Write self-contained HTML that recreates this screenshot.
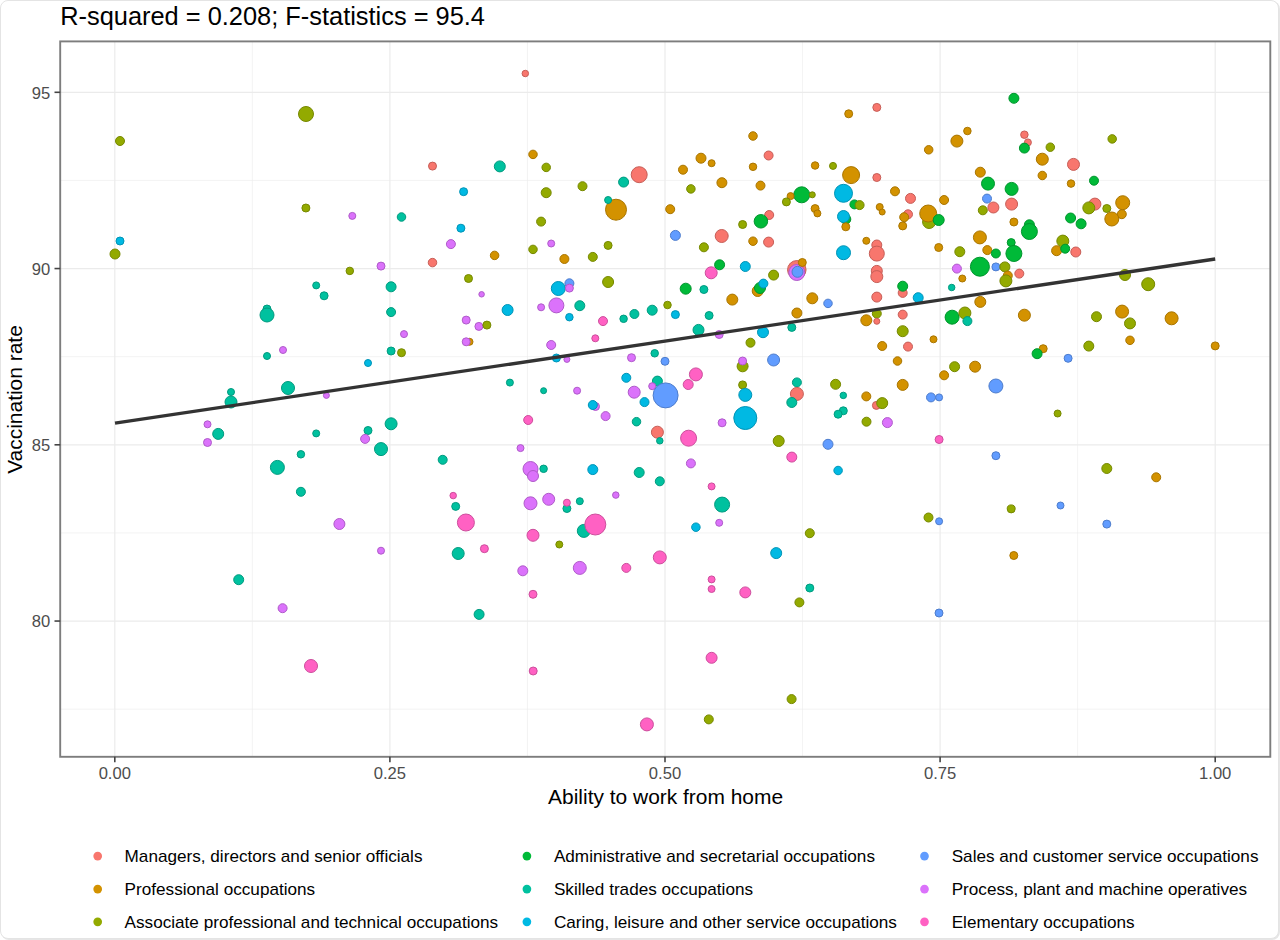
<!DOCTYPE html>
<html><head><meta charset="utf-8"><title>Vaccination rate vs ability to work from home</title>
<style>
html,body{margin:0;padding:0;background:#fff;}
body{width:1280px;height:940px;position:relative;overflow:hidden;font-family:"Liberation Sans",Arial,sans-serif;}
.card{position:absolute;left:0;top:0;width:1279px;height:939px;box-sizing:border-box;border:1px solid #e4e4e4;border-radius:8px;background:#fff;box-shadow:1px 1px 0 #e6e6e6;}
</style></head>
<body>
<div class="card"></div>
<svg width="1280" height="940" viewBox="0 0 1280 940" style="position:absolute;left:0;top:0">
<line x1="252.35" y1="41.4" x2="252.35" y2="756.8" stroke="#EBEBEB" stroke-width="0.6"/>
<line x1="527.45" y1="41.4" x2="527.45" y2="756.8" stroke="#EBEBEB" stroke-width="0.6"/>
<line x1="802.55" y1="41.4" x2="802.55" y2="756.8" stroke="#EBEBEB" stroke-width="0.6"/>
<line x1="1077.65" y1="41.4" x2="1077.65" y2="756.8" stroke="#EBEBEB" stroke-width="0.6"/>
<line x1="60.2" y1="709.17" x2="1270.3" y2="709.17" stroke="#EBEBEB" stroke-width="0.6"/>
<line x1="60.2" y1="532.92" x2="1270.3" y2="532.92" stroke="#EBEBEB" stroke-width="0.6"/>
<line x1="60.2" y1="356.68" x2="1270.3" y2="356.68" stroke="#EBEBEB" stroke-width="0.6"/>
<line x1="60.2" y1="180.43" x2="1270.3" y2="180.43" stroke="#EBEBEB" stroke-width="0.6"/>
<line x1="114.80" y1="41.4" x2="114.80" y2="756.8" stroke="#EBEBEB" stroke-width="1.2"/>
<line x1="389.90" y1="41.4" x2="389.90" y2="756.8" stroke="#EBEBEB" stroke-width="1.2"/>
<line x1="665.00" y1="41.4" x2="665.00" y2="756.8" stroke="#EBEBEB" stroke-width="1.2"/>
<line x1="940.10" y1="41.4" x2="940.10" y2="756.8" stroke="#EBEBEB" stroke-width="1.2"/>
<line x1="1215.20" y1="41.4" x2="1215.20" y2="756.8" stroke="#EBEBEB" stroke-width="1.2"/>
<line x1="60.2" y1="621.05" x2="1270.3" y2="621.05" stroke="#EBEBEB" stroke-width="1.2"/>
<line x1="60.2" y1="444.80" x2="1270.3" y2="444.80" stroke="#EBEBEB" stroke-width="1.2"/>
<line x1="60.2" y1="268.55" x2="1270.3" y2="268.55" stroke="#EBEBEB" stroke-width="1.2"/>
<line x1="60.2" y1="92.30" x2="1270.3" y2="92.30" stroke="#EBEBEB" stroke-width="1.2"/>
<circle cx="120.0" cy="141.0" r="4.50" fill="#93AA00" stroke="#768800" stroke-width="1.0"/>
<circle cx="120.0" cy="241.0" r="4.00" fill="#00B9E3" stroke="#0094B6" stroke-width="1.0"/>
<circle cx="115.0" cy="254.0" r="5.00" fill="#93AA00" stroke="#768800" stroke-width="1.0"/>
<circle cx="267.0" cy="309.0" r="4.00" fill="#00C19F" stroke="#009A7F" stroke-width="1.0"/>
<circle cx="267.0" cy="315.0" r="7.00" fill="#00C19F" stroke="#009A7F" stroke-width="1.0"/>
<circle cx="267.0" cy="356.0" r="3.50" fill="#00C19F" stroke="#009A7F" stroke-width="1.0"/>
<circle cx="283.0" cy="350.0" r="3.50" fill="#DB72FB" stroke="#AF5BC9" stroke-width="1.0"/>
<circle cx="231.0" cy="392.0" r="3.50" fill="#00C19F" stroke="#009A7F" stroke-width="1.0"/>
<circle cx="231.0" cy="402.0" r="6.00" fill="#00C19F" stroke="#009A7F" stroke-width="1.0"/>
<circle cx="288.0" cy="388.0" r="6.50" fill="#00C19F" stroke="#009A7F" stroke-width="1.0"/>
<circle cx="207.5" cy="424.3" r="3.50" fill="#DB72FB" stroke="#AF5BC9" stroke-width="1.0"/>
<circle cx="218.2" cy="433.9" r="5.50" fill="#00C19F" stroke="#009A7F" stroke-width="1.0"/>
<circle cx="207.5" cy="442.5" r="4.00" fill="#DB72FB" stroke="#AF5BC9" stroke-width="1.0"/>
<circle cx="277.4" cy="467.4" r="7.00" fill="#00C19F" stroke="#009A7F" stroke-width="1.0"/>
<circle cx="238.7" cy="579.7" r="5.00" fill="#00C19F" stroke="#009A7F" stroke-width="1.0"/>
<circle cx="282.6" cy="608.2" r="4.50" fill="#DB72FB" stroke="#AF5BC9" stroke-width="1.0"/>
<circle cx="311.0" cy="666.0" r="6.50" fill="#FF61C3" stroke="#CC4E9C" stroke-width="1.0"/>
<circle cx="306.0" cy="114.0" r="7.50" fill="#93AA00" stroke="#768800" stroke-width="1.0"/>
<circle cx="525.3" cy="73.5" r="3.25" fill="#F8766D" stroke="#C65E57" stroke-width="1.0"/>
<circle cx="432.5" cy="166.1" r="4.00" fill="#F8766D" stroke="#C65E57" stroke-width="1.0"/>
<circle cx="499.8" cy="166.4" r="5.50" fill="#00C19F" stroke="#009A7F" stroke-width="1.0"/>
<circle cx="463.6" cy="191.7" r="4.00" fill="#00B9E3" stroke="#0094B6" stroke-width="1.0"/>
<circle cx="305.9" cy="208.0" r="4.00" fill="#93AA00" stroke="#768800" stroke-width="1.0"/>
<circle cx="352.3" cy="215.9" r="3.50" fill="#DB72FB" stroke="#AF5BC9" stroke-width="1.0"/>
<circle cx="401.5" cy="217.0" r="4.25" fill="#00C19F" stroke="#009A7F" stroke-width="1.0"/>
<circle cx="460.9" cy="228.2" r="4.00" fill="#00B9E3" stroke="#0094B6" stroke-width="1.0"/>
<circle cx="450.9" cy="244.1" r="4.50" fill="#DB72FB" stroke="#AF5BC9" stroke-width="1.0"/>
<circle cx="494.6" cy="255.4" r="4.25" fill="#D39200" stroke="#A97500" stroke-width="1.0"/>
<circle cx="432.5" cy="262.6" r="4.25" fill="#F8766D" stroke="#C65E57" stroke-width="1.0"/>
<circle cx="381.0" cy="266.1" r="4.00" fill="#DB72FB" stroke="#AF5BC9" stroke-width="1.0"/>
<circle cx="349.8" cy="270.9" r="3.75" fill="#93AA00" stroke="#768800" stroke-width="1.0"/>
<circle cx="468.5" cy="278.5" r="4.00" fill="#93AA00" stroke="#768800" stroke-width="1.0"/>
<circle cx="316.2" cy="285.4" r="3.50" fill="#00C19F" stroke="#009A7F" stroke-width="1.0"/>
<circle cx="324.1" cy="295.8" r="4.00" fill="#00C19F" stroke="#009A7F" stroke-width="1.0"/>
<circle cx="391.1" cy="286.8" r="5.00" fill="#00C19F" stroke="#009A7F" stroke-width="1.0"/>
<circle cx="481.6" cy="294.3" r="2.75" fill="#DB72FB" stroke="#AF5BC9" stroke-width="1.0"/>
<circle cx="507.6" cy="310.0" r="5.50" fill="#00B9E3" stroke="#0094B6" stroke-width="1.0"/>
<circle cx="391.1" cy="312.1" r="4.50" fill="#00C19F" stroke="#009A7F" stroke-width="1.0"/>
<circle cx="466.2" cy="320.1" r="4.00" fill="#DB72FB" stroke="#AF5BC9" stroke-width="1.0"/>
<circle cx="478.9" cy="326.4" r="4.00" fill="#DB72FB" stroke="#AF5BC9" stroke-width="1.0"/>
<circle cx="486.9" cy="325.1" r="4.00" fill="#93AA00" stroke="#768800" stroke-width="1.0"/>
<circle cx="404.0" cy="334.1" r="3.50" fill="#DB72FB" stroke="#AF5BC9" stroke-width="1.0"/>
<circle cx="469.5" cy="341.8" r="3.50" fill="#D39200" stroke="#A97500" stroke-width="1.0"/>
<circle cx="466.2" cy="341.8" r="4.00" fill="#DB72FB" stroke="#AF5BC9" stroke-width="1.0"/>
<circle cx="391.1" cy="351.0" r="4.00" fill="#00C19F" stroke="#009A7F" stroke-width="1.0"/>
<circle cx="401.5" cy="352.7" r="4.00" fill="#93AA00" stroke="#768800" stroke-width="1.0"/>
<circle cx="368.0" cy="363.0" r="3.50" fill="#00B9E3" stroke="#0094B6" stroke-width="1.0"/>
<circle cx="326.4" cy="395.4" r="3.00" fill="#DB72FB" stroke="#AF5BC9" stroke-width="1.0"/>
<circle cx="509.9" cy="382.6" r="3.50" fill="#00C19F" stroke="#009A7F" stroke-width="1.0"/>
<circle cx="316.2" cy="433.4" r="3.50" fill="#00C19F" stroke="#009A7F" stroke-width="1.0"/>
<circle cx="368.0" cy="430.5" r="4.00" fill="#00C19F" stroke="#009A7F" stroke-width="1.0"/>
<circle cx="365.1" cy="438.9" r="4.50" fill="#DB72FB" stroke="#AF5BC9" stroke-width="1.0"/>
<circle cx="391.1" cy="423.8" r="6.00" fill="#00C19F" stroke="#009A7F" stroke-width="1.0"/>
<circle cx="381.0" cy="449.1" r="6.50" fill="#00C19F" stroke="#009A7F" stroke-width="1.0"/>
<circle cx="300.9" cy="454.3" r="3.75" fill="#00C19F" stroke="#009A7F" stroke-width="1.0"/>
<circle cx="442.7" cy="459.8" r="4.50" fill="#00C19F" stroke="#009A7F" stroke-width="1.0"/>
<circle cx="520.5" cy="448.1" r="3.50" fill="#DB72FB" stroke="#AF5BC9" stroke-width="1.0"/>
<circle cx="300.9" cy="491.8" r="4.50" fill="#00C19F" stroke="#009A7F" stroke-width="1.0"/>
<circle cx="453.2" cy="495.6" r="3.25" fill="#FF61C3" stroke="#CC4E9C" stroke-width="1.0"/>
<circle cx="455.7" cy="506.4" r="4.00" fill="#00C19F" stroke="#009A7F" stroke-width="1.0"/>
<circle cx="465.9" cy="522.5" r="8.50" fill="#FF61C3" stroke="#CC4E9C" stroke-width="1.0"/>
<circle cx="339.4" cy="524.0" r="5.50" fill="#DB72FB" stroke="#AF5BC9" stroke-width="1.0"/>
<circle cx="381.0" cy="550.7" r="3.50" fill="#DB72FB" stroke="#AF5BC9" stroke-width="1.0"/>
<circle cx="458.2" cy="553.5" r="6.00" fill="#00C19F" stroke="#009A7F" stroke-width="1.0"/>
<circle cx="484.4" cy="548.7" r="4.00" fill="#FF61C3" stroke="#CC4E9C" stroke-width="1.0"/>
<circle cx="522.8" cy="570.8" r="5.00" fill="#DB72FB" stroke="#AF5BC9" stroke-width="1.0"/>
<circle cx="479.1" cy="614.4" r="5.00" fill="#00C19F" stroke="#009A7F" stroke-width="1.0"/>
<circle cx="533.0" cy="154.4" r="4.25" fill="#D39200" stroke="#A97500" stroke-width="1.0"/>
<circle cx="546.2" cy="167.4" r="4.25" fill="#93AA00" stroke="#768800" stroke-width="1.0"/>
<circle cx="546.2" cy="192.7" r="5.00" fill="#93AA00" stroke="#768800" stroke-width="1.0"/>
<circle cx="582.5" cy="186.2" r="4.50" fill="#93AA00" stroke="#768800" stroke-width="1.0"/>
<circle cx="623.6" cy="182.1" r="5.00" fill="#00C19F" stroke="#009A7F" stroke-width="1.0"/>
<circle cx="639.2" cy="174.7" r="8.00" fill="#F8766D" stroke="#C65E57" stroke-width="1.0"/>
<circle cx="616.0" cy="209.7" r="10.50" fill="#D39200" stroke="#A97500" stroke-width="1.0"/>
<circle cx="608.1" cy="200.0" r="3.50" fill="#00C19F" stroke="#009A7F" stroke-width="1.0"/>
<circle cx="670.2" cy="209.2" r="4.50" fill="#D39200" stroke="#A97500" stroke-width="1.0"/>
<circle cx="683.0" cy="169.7" r="4.50" fill="#D39200" stroke="#A97500" stroke-width="1.0"/>
<circle cx="701.0" cy="158.2" r="5.00" fill="#D39200" stroke="#A97500" stroke-width="1.0"/>
<circle cx="711.6" cy="163.2" r="3.50" fill="#D39200" stroke="#A97500" stroke-width="1.0"/>
<circle cx="690.9" cy="188.9" r="4.25" fill="#93AA00" stroke="#768800" stroke-width="1.0"/>
<circle cx="721.9" cy="182.7" r="5.00" fill="#D39200" stroke="#A97500" stroke-width="1.0"/>
<circle cx="753.0" cy="136.0" r="4.25" fill="#D39200" stroke="#A97500" stroke-width="1.0"/>
<circle cx="753.0" cy="166.8" r="3.75" fill="#D39200" stroke="#A97500" stroke-width="1.0"/>
<circle cx="541.1" cy="221.6" r="4.50" fill="#93AA00" stroke="#768800" stroke-width="1.0"/>
<circle cx="551.2" cy="243.5" r="3.50" fill="#DB72FB" stroke="#AF5BC9" stroke-width="1.0"/>
<circle cx="533.0" cy="249.4" r="4.25" fill="#93AA00" stroke="#768800" stroke-width="1.0"/>
<circle cx="564.4" cy="259.0" r="4.50" fill="#D39200" stroke="#A97500" stroke-width="1.0"/>
<circle cx="592.8" cy="256.9" r="4.50" fill="#93AA00" stroke="#768800" stroke-width="1.0"/>
<circle cx="608.1" cy="245.4" r="4.00" fill="#93AA00" stroke="#768800" stroke-width="1.0"/>
<circle cx="675.4" cy="235.4" r="5.00" fill="#619CFF" stroke="#4E7DCC" stroke-width="1.0"/>
<circle cx="703.9" cy="247.3" r="4.50" fill="#93AA00" stroke="#768800" stroke-width="1.0"/>
<circle cx="721.7" cy="236.0" r="6.50" fill="#F8766D" stroke="#C65E57" stroke-width="1.0"/>
<circle cx="742.6" cy="224.5" r="4.00" fill="#93AA00" stroke="#768800" stroke-width="1.0"/>
<circle cx="753.0" cy="241.2" r="4.25" fill="#D39200" stroke="#A97500" stroke-width="1.0"/>
<circle cx="719.6" cy="264.8" r="5.00" fill="#00BA38" stroke="#00952D" stroke-width="1.0"/>
<circle cx="711.2" cy="272.8" r="6.00" fill="#FF61C3" stroke="#CC4E9C" stroke-width="1.0"/>
<circle cx="745.3" cy="266.5" r="5.00" fill="#00B9E3" stroke="#0094B6" stroke-width="1.0"/>
<circle cx="608.1" cy="282.0" r="5.50" fill="#93AA00" stroke="#768800" stroke-width="1.0"/>
<circle cx="558.3" cy="288.5" r="7.00" fill="#00B9E3" stroke="#0094B6" stroke-width="1.0"/>
<circle cx="569.4" cy="283.3" r="4.50" fill="#619CFF" stroke="#4E7DCC" stroke-width="1.0"/>
<circle cx="569.4" cy="288.1" r="4.00" fill="#DB72FB" stroke="#AF5BC9" stroke-width="1.0"/>
<circle cx="556.4" cy="305.4" r="7.50" fill="#DB72FB" stroke="#AF5BC9" stroke-width="1.0"/>
<circle cx="541.1" cy="307.3" r="3.50" fill="#DB72FB" stroke="#AF5BC9" stroke-width="1.0"/>
<circle cx="579.8" cy="305.7" r="5.00" fill="#00C19F" stroke="#009A7F" stroke-width="1.0"/>
<circle cx="569.4" cy="317.2" r="3.75" fill="#00B9E3" stroke="#0094B6" stroke-width="1.0"/>
<circle cx="603.0" cy="321.1" r="4.50" fill="#FF61C3" stroke="#CC4E9C" stroke-width="1.0"/>
<circle cx="623.6" cy="318.8" r="3.75" fill="#00C19F" stroke="#009A7F" stroke-width="1.0"/>
<circle cx="634.4" cy="314.0" r="4.50" fill="#00C19F" stroke="#009A7F" stroke-width="1.0"/>
<circle cx="652.2" cy="310.2" r="5.00" fill="#00C19F" stroke="#009A7F" stroke-width="1.0"/>
<circle cx="667.5" cy="305.0" r="3.75" fill="#93AA00" stroke="#768800" stroke-width="1.0"/>
<circle cx="675.4" cy="314.6" r="4.00" fill="#00B9E3" stroke="#0094B6" stroke-width="1.0"/>
<circle cx="685.7" cy="288.7" r="5.50" fill="#00BA38" stroke="#00952D" stroke-width="1.0"/>
<circle cx="703.9" cy="289.5" r="4.00" fill="#00C19F" stroke="#009A7F" stroke-width="1.0"/>
<circle cx="732.3" cy="299.6" r="5.50" fill="#D39200" stroke="#A97500" stroke-width="1.0"/>
<circle cx="709.1" cy="315.5" r="4.00" fill="#00C19F" stroke="#009A7F" stroke-width="1.0"/>
<circle cx="698.5" cy="329.9" r="5.50" fill="#00C19F" stroke="#009A7F" stroke-width="1.0"/>
<circle cx="719.2" cy="334.5" r="4.00" fill="#DB72FB" stroke="#AF5BC9" stroke-width="1.0"/>
<circle cx="750.5" cy="342.7" r="4.50" fill="#93AA00" stroke="#768800" stroke-width="1.0"/>
<circle cx="551.2" cy="345.0" r="4.50" fill="#DB72FB" stroke="#AF5BC9" stroke-width="1.0"/>
<circle cx="595.3" cy="338.3" r="3.50" fill="#FF61C3" stroke="#CC4E9C" stroke-width="1.0"/>
<circle cx="556.4" cy="358.0" r="4.00" fill="#00B9E3" stroke="#0094B6" stroke-width="1.0"/>
<circle cx="566.9" cy="359.4" r="3.00" fill="#DB72FB" stroke="#AF5BC9" stroke-width="1.0"/>
<circle cx="654.7" cy="353.3" r="3.75" fill="#00C19F" stroke="#009A7F" stroke-width="1.0"/>
<circle cx="631.5" cy="357.7" r="4.00" fill="#DB72FB" stroke="#AF5BC9" stroke-width="1.0"/>
<circle cx="665.0" cy="361.3" r="4.00" fill="#619CFF" stroke="#4E7DCC" stroke-width="1.0"/>
<circle cx="742.6" cy="366.3" r="5.50" fill="#93AA00" stroke="#768800" stroke-width="1.0"/>
<circle cx="742.6" cy="361.0" r="4.00" fill="#DB72FB" stroke="#AF5BC9" stroke-width="1.0"/>
<circle cx="695.9" cy="374.4" r="6.50" fill="#FF61C3" stroke="#CC4E9C" stroke-width="1.0"/>
<circle cx="626.3" cy="377.8" r="4.50" fill="#00B9E3" stroke="#0094B6" stroke-width="1.0"/>
<circle cx="657.4" cy="381.1" r="5.00" fill="#00C19F" stroke="#009A7F" stroke-width="1.0"/>
<circle cx="652.2" cy="386.2" r="3.50" fill="#DB72FB" stroke="#AF5BC9" stroke-width="1.0"/>
<circle cx="665.6" cy="395.4" r="12.50" fill="#619CFF" stroke="#4E7DCC" stroke-width="1.0"/>
<circle cx="688.2" cy="384.5" r="5.00" fill="#FF61C3" stroke="#CC4E9C" stroke-width="1.0"/>
<circle cx="742.6" cy="384.9" r="4.00" fill="#93AA00" stroke="#768800" stroke-width="1.0"/>
<circle cx="745.3" cy="394.9" r="6.50" fill="#00B9E3" stroke="#0094B6" stroke-width="1.0"/>
<circle cx="745.3" cy="418.0" r="11.50" fill="#00B9E3" stroke="#0094B6" stroke-width="1.0"/>
<circle cx="543.6" cy="390.7" r="3.00" fill="#00C19F" stroke="#009A7F" stroke-width="1.0"/>
<circle cx="577.1" cy="390.7" r="3.50" fill="#DB72FB" stroke="#AF5BC9" stroke-width="1.0"/>
<circle cx="595.5" cy="406.5" r="4.00" fill="#DB72FB" stroke="#AF5BC9" stroke-width="1.0"/>
<circle cx="592.8" cy="405.0" r="4.50" fill="#00B9E3" stroke="#0094B6" stroke-width="1.0"/>
<circle cx="605.6" cy="416.1" r="4.50" fill="#DB72FB" stroke="#AF5BC9" stroke-width="1.0"/>
<circle cx="634.2" cy="392.2" r="6.00" fill="#DB72FB" stroke="#AF5BC9" stroke-width="1.0"/>
<circle cx="644.5" cy="402.1" r="4.50" fill="#00B9E3" stroke="#0094B6" stroke-width="1.0"/>
<circle cx="528.2" cy="420.0" r="4.50" fill="#FF61C3" stroke="#CC4E9C" stroke-width="1.0"/>
<circle cx="636.5" cy="421.7" r="4.25" fill="#00C19F" stroke="#009A7F" stroke-width="1.0"/>
<circle cx="657.4" cy="432.2" r="6.00" fill="#F8766D" stroke="#C65E57" stroke-width="1.0"/>
<circle cx="659.8" cy="440.8" r="3.25" fill="#00C19F" stroke="#009A7F" stroke-width="1.0"/>
<circle cx="688.6" cy="438.2" r="8.00" fill="#FF61C3" stroke="#CC4E9C" stroke-width="1.0"/>
<circle cx="722.1" cy="422.8" r="4.00" fill="#DB72FB" stroke="#AF5BC9" stroke-width="1.0"/>
<circle cx="530.5" cy="469.0" r="7.50" fill="#DB72FB" stroke="#AF5BC9" stroke-width="1.0"/>
<circle cx="533.0" cy="476.0" r="5.50" fill="#DB72FB" stroke="#AF5BC9" stroke-width="1.0"/>
<circle cx="543.6" cy="468.8" r="3.75" fill="#00C19F" stroke="#009A7F" stroke-width="1.0"/>
<circle cx="592.8" cy="469.6" r="5.00" fill="#00B9E3" stroke="#0094B6" stroke-width="1.0"/>
<circle cx="639.2" cy="472.5" r="5.00" fill="#00C19F" stroke="#009A7F" stroke-width="1.0"/>
<circle cx="659.8" cy="481.3" r="4.50" fill="#00C19F" stroke="#009A7F" stroke-width="1.0"/>
<circle cx="690.9" cy="463.4" r="4.50" fill="#DB72FB" stroke="#AF5BC9" stroke-width="1.0"/>
<circle cx="615.8" cy="495.1" r="3.25" fill="#DB72FB" stroke="#AF5BC9" stroke-width="1.0"/>
<circle cx="711.6" cy="486.4" r="3.50" fill="#FF61C3" stroke="#CC4E9C" stroke-width="1.0"/>
<circle cx="722.1" cy="504.6" r="7.50" fill="#00C19F" stroke="#009A7F" stroke-width="1.0"/>
<circle cx="719.2" cy="522.8" r="3.50" fill="#DB72FB" stroke="#AF5BC9" stroke-width="1.0"/>
<circle cx="695.9" cy="527.2" r="4.25" fill="#00B9E3" stroke="#0094B6" stroke-width="1.0"/>
<circle cx="530.5" cy="503.3" r="6.50" fill="#DB72FB" stroke="#AF5BC9" stroke-width="1.0"/>
<circle cx="548.7" cy="499.3" r="6.00" fill="#DB72FB" stroke="#AF5BC9" stroke-width="1.0"/>
<circle cx="566.9" cy="508.5" r="4.00" fill="#00C19F" stroke="#009A7F" stroke-width="1.0"/>
<circle cx="566.9" cy="502.7" r="3.50" fill="#FF61C3" stroke="#CC4E9C" stroke-width="1.0"/>
<circle cx="579.8" cy="501.2" r="3.50" fill="#00C19F" stroke="#009A7F" stroke-width="1.0"/>
<circle cx="583.8" cy="530.9" r="6.50" fill="#00C19F" stroke="#009A7F" stroke-width="1.0"/>
<circle cx="595.3" cy="524.5" r="10.50" fill="#FF61C3" stroke="#CC4E9C" stroke-width="1.0"/>
<circle cx="533.0" cy="535.3" r="6.00" fill="#FF61C3" stroke="#CC4E9C" stroke-width="1.0"/>
<circle cx="559.3" cy="544.5" r="3.50" fill="#93AA00" stroke="#768800" stroke-width="1.0"/>
<circle cx="579.8" cy="567.9" r="6.50" fill="#DB72FB" stroke="#AF5BC9" stroke-width="1.0"/>
<circle cx="626.3" cy="567.9" r="4.50" fill="#FF61C3" stroke="#CC4E9C" stroke-width="1.0"/>
<circle cx="659.8" cy="557.4" r="6.50" fill="#FF61C3" stroke="#CC4E9C" stroke-width="1.0"/>
<circle cx="533.0" cy="594.3" r="4.00" fill="#FF61C3" stroke="#CC4E9C" stroke-width="1.0"/>
<circle cx="711.6" cy="579.4" r="3.50" fill="#FF61C3" stroke="#CC4E9C" stroke-width="1.0"/>
<circle cx="711.6" cy="589.0" r="3.50" fill="#FF61C3" stroke="#CC4E9C" stroke-width="1.0"/>
<circle cx="745.3" cy="592.4" r="5.50" fill="#FF61C3" stroke="#CC4E9C" stroke-width="1.0"/>
<circle cx="711.6" cy="657.8" r="5.50" fill="#FF61C3" stroke="#CC4E9C" stroke-width="1.0"/>
<circle cx="533.2" cy="671.0" r="4.00" fill="#FF61C3" stroke="#CC4E9C" stroke-width="1.0"/>
<circle cx="646.9" cy="724.4" r="6.50" fill="#FF61C3" stroke="#CC4E9C" stroke-width="1.0"/>
<circle cx="708.8" cy="719.4" r="4.50" fill="#93AA00" stroke="#768800" stroke-width="1.0"/>
<circle cx="791.6" cy="699.1" r="4.50" fill="#93AA00" stroke="#768800" stroke-width="1.0"/>
<circle cx="768.6" cy="155.5" r="4.50" fill="#F8766D" stroke="#C65E57" stroke-width="1.0"/>
<circle cx="760.5" cy="185.6" r="4.50" fill="#D39200" stroke="#A97500" stroke-width="1.0"/>
<circle cx="848.7" cy="113.8" r="4.00" fill="#D39200" stroke="#A97500" stroke-width="1.0"/>
<circle cx="876.8" cy="107.4" r="4.00" fill="#F8766D" stroke="#C65E57" stroke-width="1.0"/>
<circle cx="928.7" cy="149.8" r="4.25" fill="#D39200" stroke="#A97500" stroke-width="1.0"/>
<circle cx="956.9" cy="141.1" r="6.00" fill="#D39200" stroke="#A97500" stroke-width="1.0"/>
<circle cx="967.4" cy="131.0" r="3.75" fill="#D39200" stroke="#A97500" stroke-width="1.0"/>
<circle cx="815.1" cy="165.5" r="3.75" fill="#D39200" stroke="#A97500" stroke-width="1.0"/>
<circle cx="833.0" cy="165.9" r="3.50" fill="#93AA00" stroke="#768800" stroke-width="1.0"/>
<circle cx="851.1" cy="175.1" r="8.50" fill="#D39200" stroke="#A97500" stroke-width="1.0"/>
<circle cx="876.8" cy="177.5" r="4.00" fill="#F8766D" stroke="#C65E57" stroke-width="1.0"/>
<circle cx="980.3" cy="172.2" r="5.00" fill="#D39200" stroke="#A97500" stroke-width="1.0"/>
<circle cx="801.7" cy="194.8" r="8.00" fill="#00BA38" stroke="#00952D" stroke-width="1.0"/>
<circle cx="790.6" cy="196.1" r="3.50" fill="#D39200" stroke="#A97500" stroke-width="1.0"/>
<circle cx="786.4" cy="201.9" r="4.00" fill="#93AA00" stroke="#768800" stroke-width="1.0"/>
<circle cx="812.3" cy="194.8" r="3.00" fill="#93AA00" stroke="#768800" stroke-width="1.0"/>
<circle cx="843.5" cy="193.3" r="9.00" fill="#00B9E3" stroke="#0094B6" stroke-width="1.0"/>
<circle cx="854.4" cy="204.4" r="4.50" fill="#00BA38" stroke="#00952D" stroke-width="1.0"/>
<circle cx="859.6" cy="205.1" r="4.50" fill="#93AA00" stroke="#768800" stroke-width="1.0"/>
<circle cx="895.0" cy="191.3" r="4.50" fill="#D39200" stroke="#A97500" stroke-width="1.0"/>
<circle cx="910.5" cy="198.4" r="5.00" fill="#F8766D" stroke="#C65E57" stroke-width="1.0"/>
<circle cx="944.1" cy="200.0" r="4.50" fill="#D39200" stroke="#A97500" stroke-width="1.0"/>
<circle cx="815.1" cy="208.6" r="4.00" fill="#D39200" stroke="#A97500" stroke-width="1.0"/>
<circle cx="817.4" cy="213.4" r="3.50" fill="#D39200" stroke="#A97500" stroke-width="1.0"/>
<circle cx="879.7" cy="207.0" r="3.50" fill="#D39200" stroke="#A97500" stroke-width="1.0"/>
<circle cx="882.2" cy="212.0" r="3.00" fill="#D39200" stroke="#A97500" stroke-width="1.0"/>
<circle cx="769.2" cy="215.0" r="4.50" fill="#F8766D" stroke="#C65E57" stroke-width="1.0"/>
<circle cx="760.9" cy="221.3" r="6.75" fill="#00BA38" stroke="#00952D" stroke-width="1.0"/>
<circle cx="845.8" cy="219.2" r="5.00" fill="#00BA38" stroke="#00952D" stroke-width="1.0"/>
<circle cx="843.5" cy="216.5" r="6.00" fill="#00B9E3" stroke="#0094B6" stroke-width="1.0"/>
<circle cx="845.8" cy="226.8" r="4.00" fill="#D39200" stroke="#A97500" stroke-width="1.0"/>
<circle cx="929.1" cy="222.0" r="6.50" fill="#93AA00" stroke="#768800" stroke-width="1.0"/>
<circle cx="928.2" cy="213.5" r="8.50" fill="#D39200" stroke="#A97500" stroke-width="1.0"/>
<circle cx="938.7" cy="220.0" r="5.50" fill="#00BA38" stroke="#00952D" stroke-width="1.0"/>
<circle cx="908.0" cy="214.3" r="4.50" fill="#F8766D" stroke="#C65E57" stroke-width="1.0"/>
<circle cx="904.2" cy="217.2" r="4.50" fill="#D39200" stroke="#A97500" stroke-width="1.0"/>
<circle cx="902.7" cy="225.9" r="4.00" fill="#D39200" stroke="#A97500" stroke-width="1.0"/>
<circle cx="982.8" cy="210.3" r="4.50" fill="#93AA00" stroke="#768800" stroke-width="1.0"/>
<circle cx="987.0" cy="198.6" r="4.50" fill="#619CFF" stroke="#4E7DCC" stroke-width="1.0"/>
<circle cx="768.6" cy="242.1" r="5.00" fill="#F8766D" stroke="#C65E57" stroke-width="1.0"/>
<circle cx="843.5" cy="252.7" r="7.00" fill="#00B9E3" stroke="#0094B6" stroke-width="1.0"/>
<circle cx="866.3" cy="240.8" r="3.50" fill="#D39200" stroke="#A97500" stroke-width="1.0"/>
<circle cx="876.8" cy="245.0" r="5.00" fill="#F8766D" stroke="#C65E57" stroke-width="1.0"/>
<circle cx="876.8" cy="253.6" r="7.50" fill="#F8766D" stroke="#C65E57" stroke-width="1.0"/>
<circle cx="876.8" cy="270.9" r="5.50" fill="#F8766D" stroke="#C65E57" stroke-width="1.0"/>
<circle cx="876.8" cy="276.6" r="6.00" fill="#F8766D" stroke="#C65E57" stroke-width="1.0"/>
<circle cx="876.8" cy="297.1" r="5.00" fill="#F8766D" stroke="#C65E57" stroke-width="1.0"/>
<circle cx="938.7" cy="247.5" r="4.00" fill="#D39200" stroke="#A97500" stroke-width="1.0"/>
<circle cx="979.9" cy="237.4" r="6.50" fill="#D39200" stroke="#A97500" stroke-width="1.0"/>
<circle cx="959.8" cy="251.7" r="5.00" fill="#93AA00" stroke="#768800" stroke-width="1.0"/>
<circle cx="979.9" cy="266.7" r="9.50" fill="#00BA38" stroke="#00952D" stroke-width="1.0"/>
<circle cx="956.9" cy="268.6" r="4.50" fill="#DB72FB" stroke="#AF5BC9" stroke-width="1.0"/>
<circle cx="962.3" cy="278.5" r="3.50" fill="#D39200" stroke="#A97500" stroke-width="1.0"/>
<circle cx="951.7" cy="287.5" r="3.25" fill="#00C19F" stroke="#009A7F" stroke-width="1.0"/>
<circle cx="796.8" cy="269.8" r="9.25" fill="#F8766D" stroke="#C65E57" stroke-width="1.0"/>
<circle cx="796.8" cy="272.5" r="8.00" fill="#DB72FB" stroke="#AF5BC9" stroke-width="1.0"/>
<circle cx="797.5" cy="271.8" r="5.50" fill="#619CFF" stroke="#4E7DCC" stroke-width="1.0"/>
<circle cx="802.3" cy="262.5" r="4.00" fill="#D39200" stroke="#A97500" stroke-width="1.0"/>
<circle cx="773.6" cy="275.1" r="5.00" fill="#93AA00" stroke="#768800" stroke-width="1.0"/>
<circle cx="757.7" cy="291.0" r="5.50" fill="#D39200" stroke="#A97500" stroke-width="1.0"/>
<circle cx="760.0" cy="288.0" r="5.50" fill="#00BA38" stroke="#00952D" stroke-width="1.0"/>
<circle cx="763.4" cy="283.6" r="4.50" fill="#00B9E3" stroke="#0094B6" stroke-width="1.0"/>
<circle cx="812.3" cy="298.3" r="5.50" fill="#D39200" stroke="#A97500" stroke-width="1.0"/>
<circle cx="828.0" cy="303.4" r="4.25" fill="#619CFF" stroke="#4E7DCC" stroke-width="1.0"/>
<circle cx="902.7" cy="292.9" r="4.50" fill="#F8766D" stroke="#C65E57" stroke-width="1.0"/>
<circle cx="902.7" cy="286.2" r="5.00" fill="#00BA38" stroke="#00952D" stroke-width="1.0"/>
<circle cx="918.2" cy="297.7" r="5.00" fill="#00B9E3" stroke="#0094B6" stroke-width="1.0"/>
<circle cx="796.9" cy="313.0" r="5.00" fill="#D39200" stroke="#A97500" stroke-width="1.0"/>
<circle cx="791.8" cy="327.4" r="4.00" fill="#00C19F" stroke="#009A7F" stroke-width="1.0"/>
<circle cx="763.0" cy="332.2" r="5.50" fill="#00B9E3" stroke="#0094B6" stroke-width="1.0"/>
<circle cx="876.8" cy="313.6" r="4.50" fill="#93AA00" stroke="#768800" stroke-width="1.0"/>
<circle cx="876.8" cy="321.3" r="3.00" fill="#F8766D" stroke="#C65E57" stroke-width="1.0"/>
<circle cx="866.3" cy="320.3" r="5.50" fill="#D39200" stroke="#A97500" stroke-width="1.0"/>
<circle cx="902.7" cy="314.6" r="4.50" fill="#F8766D" stroke="#C65E57" stroke-width="1.0"/>
<circle cx="952.1" cy="317.2" r="7.00" fill="#00BA38" stroke="#00952D" stroke-width="1.0"/>
<circle cx="964.9" cy="313.0" r="6.00" fill="#93AA00" stroke="#768800" stroke-width="1.0"/>
<circle cx="967.4" cy="321.1" r="4.50" fill="#00C19F" stroke="#009A7F" stroke-width="1.0"/>
<circle cx="980.3" cy="301.9" r="5.50" fill="#D39200" stroke="#A97500" stroke-width="1.0"/>
<circle cx="902.7" cy="331.2" r="5.50" fill="#93AA00" stroke="#768800" stroke-width="1.0"/>
<circle cx="933.5" cy="339.3" r="3.50" fill="#D39200" stroke="#A97500" stroke-width="1.0"/>
<circle cx="882.2" cy="346.0" r="4.50" fill="#D39200" stroke="#A97500" stroke-width="1.0"/>
<circle cx="908.0" cy="346.6" r="4.50" fill="#F8766D" stroke="#C65E57" stroke-width="1.0"/>
<circle cx="773.6" cy="360.0" r="6.00" fill="#619CFF" stroke="#4E7DCC" stroke-width="1.0"/>
<circle cx="897.5" cy="361.0" r="4.25" fill="#D39200" stroke="#A97500" stroke-width="1.0"/>
<circle cx="954.6" cy="366.7" r="5.00" fill="#93AA00" stroke="#768800" stroke-width="1.0"/>
<circle cx="975.1" cy="366.7" r="5.50" fill="#D39200" stroke="#A97500" stroke-width="1.0"/>
<circle cx="944.1" cy="375.3" r="4.50" fill="#D39200" stroke="#A97500" stroke-width="1.0"/>
<circle cx="796.9" cy="382.4" r="4.50" fill="#00C19F" stroke="#009A7F" stroke-width="1.0"/>
<circle cx="796.9" cy="393.9" r="6.50" fill="#F8766D" stroke="#C65E57" stroke-width="1.0"/>
<circle cx="791.8" cy="402.5" r="5.00" fill="#00C19F" stroke="#009A7F" stroke-width="1.0"/>
<circle cx="835.6" cy="384.3" r="5.00" fill="#93AA00" stroke="#768800" stroke-width="1.0"/>
<circle cx="843.3" cy="395.4" r="3.25" fill="#00C19F" stroke="#009A7F" stroke-width="1.0"/>
<circle cx="843.3" cy="410.8" r="4.00" fill="#00C19F" stroke="#009A7F" stroke-width="1.0"/>
<circle cx="838.1" cy="414.2" r="4.00" fill="#00C19F" stroke="#009A7F" stroke-width="1.0"/>
<circle cx="902.7" cy="384.9" r="5.50" fill="#D39200" stroke="#A97500" stroke-width="1.0"/>
<circle cx="866.3" cy="396.4" r="4.50" fill="#D39200" stroke="#A97500" stroke-width="1.0"/>
<circle cx="876.4" cy="405.4" r="4.00" fill="#F8766D" stroke="#C65E57" stroke-width="1.0"/>
<circle cx="882.2" cy="403.1" r="5.50" fill="#93AA00" stroke="#768800" stroke-width="1.0"/>
<circle cx="866.5" cy="421.7" r="4.50" fill="#93AA00" stroke="#768800" stroke-width="1.0"/>
<circle cx="887.4" cy="422.6" r="5.00" fill="#DB72FB" stroke="#AF5BC9" stroke-width="1.0"/>
<circle cx="931.0" cy="397.4" r="4.50" fill="#619CFF" stroke="#4E7DCC" stroke-width="1.0"/>
<circle cx="939.1" cy="397.4" r="3.50" fill="#619CFF" stroke="#4E7DCC" stroke-width="1.0"/>
<circle cx="778.7" cy="441.0" r="5.50" fill="#93AA00" stroke="#768800" stroke-width="1.0"/>
<circle cx="791.8" cy="457.1" r="5.00" fill="#FF61C3" stroke="#CC4E9C" stroke-width="1.0"/>
<circle cx="828.0" cy="444.3" r="5.00" fill="#619CFF" stroke="#4E7DCC" stroke-width="1.0"/>
<circle cx="838.1" cy="470.5" r="4.25" fill="#00B9E3" stroke="#0094B6" stroke-width="1.0"/>
<circle cx="939.1" cy="439.5" r="4.00" fill="#FF61C3" stroke="#CC4E9C" stroke-width="1.0"/>
<circle cx="928.5" cy="517.5" r="4.50" fill="#93AA00" stroke="#768800" stroke-width="1.0"/>
<circle cx="939.1" cy="521.3" r="3.50" fill="#619CFF" stroke="#4E7DCC" stroke-width="1.0"/>
<circle cx="809.8" cy="533.2" r="4.50" fill="#93AA00" stroke="#768800" stroke-width="1.0"/>
<circle cx="776.2" cy="553.1" r="5.50" fill="#00B9E3" stroke="#0094B6" stroke-width="1.0"/>
<circle cx="809.8" cy="588.0" r="4.00" fill="#00C19F" stroke="#009A7F" stroke-width="1.0"/>
<circle cx="799.4" cy="602.4" r="4.50" fill="#93AA00" stroke="#768800" stroke-width="1.0"/>
<circle cx="939.0" cy="613.0" r="4.00" fill="#619CFF" stroke="#4E7DCC" stroke-width="1.0"/>
<circle cx="1013.9" cy="98.3" r="5.00" fill="#00BA38" stroke="#00952D" stroke-width="1.0"/>
<circle cx="1024.4" cy="134.7" r="3.75" fill="#F8766D" stroke="#C65E57" stroke-width="1.0"/>
<circle cx="1027.9" cy="142.4" r="3.50" fill="#F8766D" stroke="#C65E57" stroke-width="1.0"/>
<circle cx="1024.4" cy="148.1" r="5.00" fill="#00BA38" stroke="#00952D" stroke-width="1.0"/>
<circle cx="1050.3" cy="147.2" r="4.25" fill="#93AA00" stroke="#768800" stroke-width="1.0"/>
<circle cx="1042.3" cy="159.2" r="6.00" fill="#D39200" stroke="#A97500" stroke-width="1.0"/>
<circle cx="1042.3" cy="175.5" r="4.25" fill="#D39200" stroke="#A97500" stroke-width="1.0"/>
<circle cx="1073.5" cy="164.4" r="6.00" fill="#F8766D" stroke="#C65E57" stroke-width="1.0"/>
<circle cx="1071.0" cy="183.6" r="3.75" fill="#D39200" stroke="#A97500" stroke-width="1.0"/>
<circle cx="1094.0" cy="180.7" r="4.50" fill="#00BA38" stroke="#00952D" stroke-width="1.0"/>
<circle cx="1112.2" cy="138.9" r="4.25" fill="#93AA00" stroke="#768800" stroke-width="1.0"/>
<circle cx="988.0" cy="183.6" r="6.50" fill="#00BA38" stroke="#00952D" stroke-width="1.0"/>
<circle cx="993.4" cy="207.5" r="5.50" fill="#F8766D" stroke="#C65E57" stroke-width="1.0"/>
<circle cx="1011.6" cy="188.9" r="6.50" fill="#00BA38" stroke="#00952D" stroke-width="1.0"/>
<circle cx="1011.6" cy="204.1" r="6.00" fill="#F8766D" stroke="#C65E57" stroke-width="1.0"/>
<circle cx="1013.9" cy="222.0" r="4.00" fill="#D39200" stroke="#A97500" stroke-width="1.0"/>
<circle cx="1029.4" cy="224.8" r="5.00" fill="#00BA38" stroke="#00952D" stroke-width="1.0"/>
<circle cx="1029.4" cy="231.5" r="8.00" fill="#00BA38" stroke="#00952D" stroke-width="1.0"/>
<circle cx="1094.9" cy="204.1" r="6.00" fill="#F8766D" stroke="#C65E57" stroke-width="1.0"/>
<circle cx="1088.8" cy="207.9" r="6.00" fill="#93AA00" stroke="#768800" stroke-width="1.0"/>
<circle cx="1070.6" cy="218.0" r="5.00" fill="#00BA38" stroke="#00952D" stroke-width="1.0"/>
<circle cx="1081.1" cy="223.8" r="5.00" fill="#00BA38" stroke="#00952D" stroke-width="1.0"/>
<circle cx="1106.8" cy="208.5" r="4.00" fill="#93AA00" stroke="#768800" stroke-width="1.0"/>
<circle cx="1122.7" cy="202.7" r="7.00" fill="#D39200" stroke="#A97500" stroke-width="1.0"/>
<circle cx="1121.8" cy="214.2" r="4.50" fill="#D39200" stroke="#A97500" stroke-width="1.0"/>
<circle cx="1111.8" cy="219.0" r="7.00" fill="#D39200" stroke="#A97500" stroke-width="1.0"/>
<circle cx="987.3" cy="250.1" r="4.50" fill="#D39200" stroke="#A97500" stroke-width="1.0"/>
<circle cx="995.9" cy="253.5" r="4.50" fill="#00BA38" stroke="#00952D" stroke-width="1.0"/>
<circle cx="1011.2" cy="242.6" r="4.00" fill="#00BA38" stroke="#00952D" stroke-width="1.0"/>
<circle cx="1013.9" cy="253.5" r="8.00" fill="#00BA38" stroke="#00952D" stroke-width="1.0"/>
<circle cx="995.9" cy="266.9" r="4.00" fill="#619CFF" stroke="#4E7DCC" stroke-width="1.0"/>
<circle cx="1004.9" cy="266.9" r="5.00" fill="#93AA00" stroke="#768800" stroke-width="1.0"/>
<circle cx="1007.8" cy="275.6" r="4.50" fill="#D39200" stroke="#A97500" stroke-width="1.0"/>
<circle cx="1005.9" cy="280.9" r="6.00" fill="#93AA00" stroke="#768800" stroke-width="1.0"/>
<circle cx="1019.3" cy="273.6" r="4.50" fill="#F8766D" stroke="#C65E57" stroke-width="1.0"/>
<circle cx="1062.8" cy="241.1" r="6.00" fill="#93AA00" stroke="#768800" stroke-width="1.0"/>
<circle cx="1056.6" cy="250.7" r="5.00" fill="#D39200" stroke="#A97500" stroke-width="1.0"/>
<circle cx="1065.2" cy="248.7" r="4.50" fill="#00BA38" stroke="#00952D" stroke-width="1.0"/>
<circle cx="1075.8" cy="252.0" r="5.00" fill="#F8766D" stroke="#C65E57" stroke-width="1.0"/>
<circle cx="1125.0" cy="275.0" r="5.50" fill="#93AA00" stroke="#768800" stroke-width="1.0"/>
<circle cx="1148.2" cy="284.2" r="6.50" fill="#93AA00" stroke="#768800" stroke-width="1.0"/>
<circle cx="1024.4" cy="315.2" r="6.00" fill="#D39200" stroke="#A97500" stroke-width="1.0"/>
<circle cx="1096.5" cy="316.7" r="5.00" fill="#93AA00" stroke="#768800" stroke-width="1.0"/>
<circle cx="1122.1" cy="311.6" r="6.50" fill="#D39200" stroke="#A97500" stroke-width="1.0"/>
<circle cx="1130.0" cy="323.4" r="5.50" fill="#93AA00" stroke="#768800" stroke-width="1.0"/>
<circle cx="1171.6" cy="318.3" r="6.50" fill="#D39200" stroke="#A97500" stroke-width="1.0"/>
<circle cx="1130.0" cy="340.3" r="4.25" fill="#D39200" stroke="#A97500" stroke-width="1.0"/>
<circle cx="1215.2" cy="345.9" r="4.00" fill="#D39200" stroke="#A97500" stroke-width="1.0"/>
<circle cx="1088.8" cy="346.1" r="5.00" fill="#93AA00" stroke="#768800" stroke-width="1.0"/>
<circle cx="1043.2" cy="348.7" r="4.00" fill="#D39200" stroke="#A97500" stroke-width="1.0"/>
<circle cx="1037.1" cy="353.7" r="5.00" fill="#00BA38" stroke="#00952D" stroke-width="1.0"/>
<circle cx="1068.1" cy="358.3" r="4.00" fill="#619CFF" stroke="#4E7DCC" stroke-width="1.0"/>
<circle cx="995.9" cy="386.0" r="7.00" fill="#619CFF" stroke="#4E7DCC" stroke-width="1.0"/>
<circle cx="1057.6" cy="413.5" r="3.50" fill="#93AA00" stroke="#768800" stroke-width="1.0"/>
<circle cx="995.9" cy="455.7" r="4.00" fill="#619CFF" stroke="#4E7DCC" stroke-width="1.0"/>
<circle cx="1106.8" cy="468.5" r="5.00" fill="#93AA00" stroke="#768800" stroke-width="1.0"/>
<circle cx="1156.2" cy="477.3" r="4.50" fill="#D39200" stroke="#A97500" stroke-width="1.0"/>
<circle cx="1011.2" cy="508.9" r="4.00" fill="#93AA00" stroke="#768800" stroke-width="1.0"/>
<circle cx="1060.5" cy="505.5" r="3.50" fill="#619CFF" stroke="#4E7DCC" stroke-width="1.0"/>
<circle cx="1106.8" cy="524.1" r="4.00" fill="#619CFF" stroke="#4E7DCC" stroke-width="1.0"/>
<circle cx="1013.8" cy="555.5" r="4.00" fill="#D39200" stroke="#A97500" stroke-width="1.0"/>
<line x1="115" y1="423.1" x2="1215.2" y2="259" stroke="#333333" stroke-width="3.3" stroke-linecap="butt"/>
<rect x="60.2" y="41.4" width="1210.1" height="715.4" fill="none" stroke="#7d7d7d" stroke-width="1.9"/>
<line x1="54.5" y1="621.05" x2="60.2" y2="621.05" stroke="#444444" stroke-width="1.6"/>
<line x1="54.5" y1="444.80" x2="60.2" y2="444.80" stroke="#444444" stroke-width="1.6"/>
<line x1="54.5" y1="268.55" x2="60.2" y2="268.55" stroke="#444444" stroke-width="1.6"/>
<line x1="54.5" y1="92.30" x2="60.2" y2="92.30" stroke="#444444" stroke-width="1.6"/>
<line x1="114.80" y1="756.8" x2="114.80" y2="762.2" stroke="#444444" stroke-width="1.6"/>
<line x1="389.90" y1="756.8" x2="389.90" y2="762.2" stroke="#444444" stroke-width="1.6"/>
<line x1="665.00" y1="756.8" x2="665.00" y2="762.2" stroke="#444444" stroke-width="1.6"/>
<line x1="940.10" y1="756.8" x2="940.10" y2="762.2" stroke="#444444" stroke-width="1.6"/>
<line x1="1215.20" y1="756.8" x2="1215.20" y2="762.2" stroke="#444444" stroke-width="1.6"/>
<text x="50.2" y="627.45" font-family="Liberation Sans, Arial, sans-serif" font-size="16.6" fill="#4D4D4D" text-anchor="end">80</text>
<text x="50.2" y="451.20" font-family="Liberation Sans, Arial, sans-serif" font-size="16.6" fill="#4D4D4D" text-anchor="end">85</text>
<text x="50.2" y="274.95" font-family="Liberation Sans, Arial, sans-serif" font-size="16.6" fill="#4D4D4D" text-anchor="end">90</text>
<text x="50.2" y="98.70" font-family="Liberation Sans, Arial, sans-serif" font-size="16.6" fill="#4D4D4D" text-anchor="end">95</text>
<text x="114.80" y="778.8" font-family="Liberation Sans, Arial, sans-serif" font-size="16.6" fill="#4D4D4D" text-anchor="middle">0.00</text>
<text x="389.90" y="778.8" font-family="Liberation Sans, Arial, sans-serif" font-size="16.6" fill="#4D4D4D" text-anchor="middle">0.25</text>
<text x="665.00" y="778.8" font-family="Liberation Sans, Arial, sans-serif" font-size="16.6" fill="#4D4D4D" text-anchor="middle">0.50</text>
<text x="940.10" y="778.8" font-family="Liberation Sans, Arial, sans-serif" font-size="16.6" fill="#4D4D4D" text-anchor="middle">0.75</text>
<text x="1215.20" y="778.8" font-family="Liberation Sans, Arial, sans-serif" font-size="16.6" fill="#4D4D4D" text-anchor="middle">1.00</text>
<text x="665.6" y="803.7" font-family="Liberation Sans, Arial, sans-serif" font-size="20.95" fill="#000" text-anchor="middle">Ability to work from home</text>
<text transform="translate(22.0,399.5) rotate(-90)" x="0" y="0" font-family="Liberation Sans, Arial, sans-serif" font-size="20.95" fill="#000" text-anchor="middle">Vaccination rate</text>
<text x="60.2" y="25.1" font-family="Liberation Sans, Arial, sans-serif" font-size="25.4" fill="#000">R-squared = 0.208; F-statistics = 95.4</text>
<circle cx="97.7" cy="856.1" r="4.35" fill="#F8766D"/>
<text x="124.6" y="862.20" font-family="Liberation Sans, Arial, sans-serif" font-size="17.15" fill="#000">Managers, directors and senior officials</text>
<circle cx="97.7" cy="889.1" r="4.35" fill="#D39200"/>
<text x="124.6" y="895.20" font-family="Liberation Sans, Arial, sans-serif" font-size="17.15" fill="#000">Professional occupations</text>
<circle cx="97.7" cy="921.8" r="4.35" fill="#93AA00"/>
<text x="124.6" y="927.90" font-family="Liberation Sans, Arial, sans-serif" font-size="17.15" fill="#000">Associate professional and technical occupations</text>
<circle cx="526.9" cy="856.1" r="4.35" fill="#00BA38"/>
<text x="553.9" y="862.20" font-family="Liberation Sans, Arial, sans-serif" font-size="17.15" fill="#000">Administrative and secretarial occupations</text>
<circle cx="526.9" cy="889.1" r="4.35" fill="#00C19F"/>
<text x="553.9" y="895.20" font-family="Liberation Sans, Arial, sans-serif" font-size="17.15" fill="#000">Skilled trades occupations</text>
<circle cx="526.9" cy="921.8" r="4.35" fill="#00B9E3"/>
<text x="553.9" y="927.90" font-family="Liberation Sans, Arial, sans-serif" font-size="17.15" fill="#000">Caring, leisure and other service occupations</text>
<circle cx="924.5" cy="856.1" r="4.35" fill="#619CFF"/>
<text x="951.7" y="862.20" font-family="Liberation Sans, Arial, sans-serif" font-size="17.15" fill="#000">Sales and customer service occupations</text>
<circle cx="924.5" cy="889.1" r="4.35" fill="#DB72FB"/>
<text x="951.7" y="895.20" font-family="Liberation Sans, Arial, sans-serif" font-size="17.15" fill="#000">Process, plant and machine operatives</text>
<circle cx="924.5" cy="921.8" r="4.35" fill="#FF61C3"/>
<text x="951.7" y="927.90" font-family="Liberation Sans, Arial, sans-serif" font-size="17.15" fill="#000">Elementary occupations</text>
</svg>
</body></html>
